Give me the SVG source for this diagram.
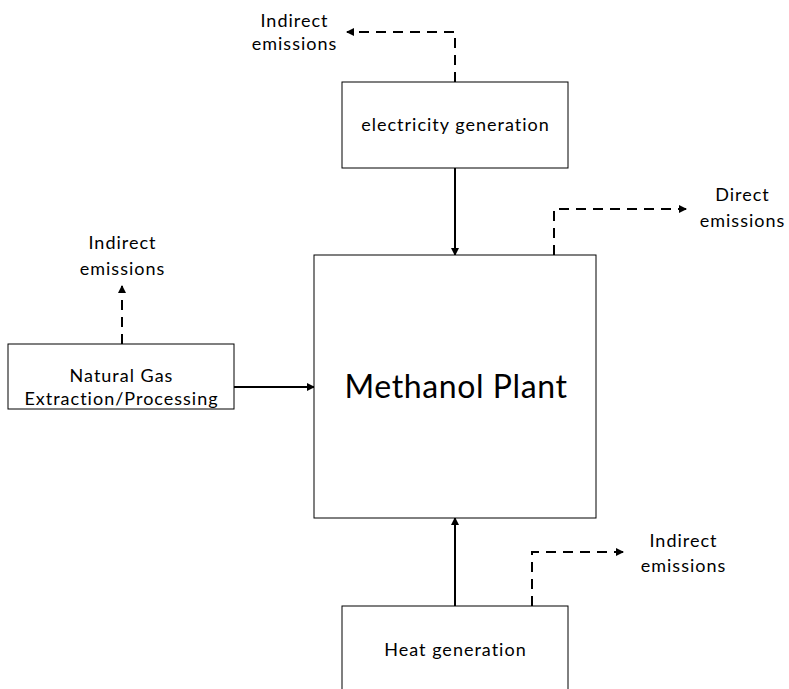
<svg xmlns="http://www.w3.org/2000/svg" width="789" height="689" viewBox="0 0 789 689">
<style>
.box{fill:#fff;stroke:#000;stroke-width:1}
.t{font-family:Lato,"Open Sans","Liberation Sans",sans-serif;font-size:18px;letter-spacing:1px;fill:#000;text-anchor:middle}
.big{font-size:32px;letter-spacing:0.6px}
.solid{stroke:#000;stroke-width:2;fill:none}
.dash{stroke:#000;stroke-width:2;fill:none;stroke-dasharray:10 7}
</style>
<defs>
<marker id="ah" markerWidth="8" markerHeight="8" refX="7" refY="4" orient="auto" markerUnits="userSpaceOnUse">
<path d="M0,0 L8,4 L0,8 Z" fill="#000"/>
</marker>
</defs>
<rect width="789" height="689" fill="#fff"/>
<g id="connectors">
<line class="solid" x1="455" y1="168" x2="455" y2="255" marker-end="url(#ah)"/>
<line class="solid" x1="234" y1="387" x2="314" y2="387" marker-end="url(#ah)"/>
<line class="solid" x1="455" y1="606" x2="455" y2="518" marker-end="url(#ah)"/>
<polyline class="dash" points="455,82 455,32 347,32" marker-end="url(#ah)"/>
<polyline class="dash" points="554,255 554,209 686,209" marker-end="url(#ah)"/>
<polyline class="dash" points="122,344 122,286" marker-end="url(#ah)"/>
<polyline class="dash" points="532,606 532,552 623,552" marker-end="url(#ah)"/>
</g>
<g id="electricity">
<rect class="box" x="342" y="82" width="226" height="86"/>
<text class="t" x="455.5" y="131">electricity generation</text>
</g>
<g id="methanol">
<rect class="box" x="314" y="255" width="282" height="263"/>
<text class="t big" x="456" y="398">Methanol Plant</text>
</g>
<g id="naturalgas">
<rect class="box" x="8" y="344" width="226" height="65"/>
<text class="t" x="121.5" y="382">Natural Gas</text>
<text class="t" x="121.5" y="405">Extraction/Processing</text>
</g>
<g id="heat">
<rect class="box" x="342" y="606" width="226" height="90"/>
<text class="t" x="455.5" y="656">Heat generation</text>
</g>
<g id="labels">
<text class="t" x="294.5" y="27">Indirect</text>
<text class="t" x="294.5" y="50">emissions</text>
<text class="t" x="742.5" y="201">Direct</text>
<text class="t" x="742.5" y="227">emissions</text>
<text class="t" x="122.5" y="249">Indirect</text>
<text class="t" x="122.5" y="275">emissions</text>
<text class="t" x="683.5" y="547">Indirect</text>
<text class="t" x="683.5" y="572">emissions</text>
</g>
</svg>
